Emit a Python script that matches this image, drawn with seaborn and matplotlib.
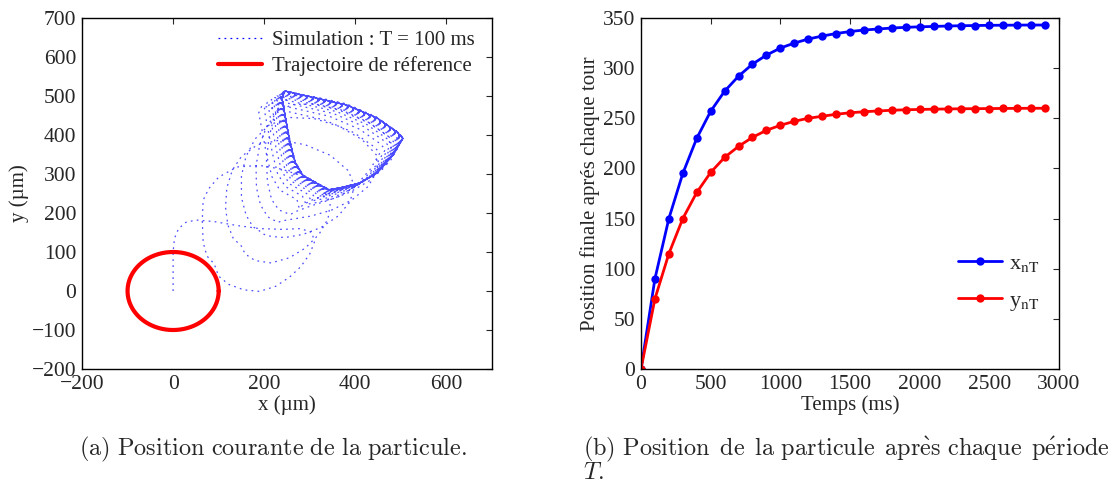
import numpy as np
import pandas as pd
import matplotlib
matplotlib.use("Agg")
import matplotlib.pyplot as plt
import seaborn as sns

# ---- panel (b): end-of-period positions (um) ----
t_ms = [0, 100, 200, 300, 400, 500, 600, 700, 800, 900, 1000, 1100, 1200, 1300, 1400,
        1500, 1600, 1700, 1800, 1900, 2000, 2100, 2200, 2300, 2400, 2500, 2600, 2700,
        2800, 2900]
x_nT = [0, 90, 150, 195, 230, 257, 277, 292, 304, 313, 320, 325, 329, 332, 334.5,
        336.5, 338, 339, 340, 340.7, 341.2, 341.6, 342, 342.3, 342.5, 342.7, 342.8,
        342.9, 343, 343]
y_nT = [0, 70, 115, 150, 176, 196, 211, 222, 231, 238, 243, 247, 250, 252, 254,
        255.5, 256.5, 257.3, 258, 258.5, 258.8, 259.1, 259.3, 259.5, 259.6, 259.7,
        259.8, 259.9, 260, 260]

# ---- panel (a): particle path over the first periods ----
loop_1 = [(0, 0), (0, 50), (0, 100), (3, 135), (12, 160), (28, 176), (50, 182),
          (90, 178), (140, 168), (190, 160), (240, 158), (280, 160), (305, 150),
          (310, 125), (300, 95), (280, 62), (255, 35), (225, 12), (190, -1), (155, 3),
          (122, 17), (100, 38), (90, 70)]
loop_2 = [(90, 70), (74, 90), (66, 125), (64, 180), (66, 233), (78, 262), (100, 292),
          (140, 318), (190, 322), (240, 312), (290, 292), (330, 262), (345, 225),
          (340, 185), (320, 145), (290, 110), (255, 85), (215, 72), (180, 78),
          (158, 95), (150, 115)]
loop_3 = [(150, 115), (132, 135), (120, 170), (115, 215), (118, 265), (130, 310),
          (150, 345), (185, 375), (235, 387), (290, 375), (345, 348), (385, 308),
          (398, 268), (388, 228), (362, 192), (325, 163), (285, 145), (245, 137),
          (215, 140), (200, 145), (195, 150)]
loop_4 = [(195, 150), (175, 165), (160, 195), (150, 240), (150, 295), (160, 345),
          (180, 390), (210, 425), (255, 445), (310, 442), (365, 422), (415, 388),
          (447, 348), (448, 308), (428, 268), (392, 233), (347, 207), (302, 192),
          (265, 185), (240, 180), (230, 176)]
loop_5 = [(230, 176), (208, 190), (192, 220), (183, 265), (182, 320), (190, 375),
          (205, 420), (225, 455), (260, 478), (310, 480), (370, 464), (430, 432),
          (472, 397), (480, 357), (464, 317), (430, 282), (387, 253), (342, 233),
          (302, 218), (272, 205), (257, 196)]
loop_6 = [(257, 196), (232, 208), (216, 235), (207, 280), (205, 335), (210, 390),
          (220, 440), (235, 480), (262, 502), (315, 497), (380, 480), (445, 447),
          (488, 408), (496, 372), (476, 332), (441, 297), (396, 270), (346, 250),
          (306, 234), (285, 221), (277, 211)]
# closed cycle reached once the drift has died out
loop_lim = [(343, 260), (323, 272), (285, 297), (268, 331), (257, 382), (246, 451),
            (239, 495), (246, 513), (307, 497), (382, 477), (448, 444), (492, 408),
            (505, 392), (483, 349), (448, 303), (410, 277), (367, 265), (343, 260)]
early_loops = [loop_1, loop_2, loop_3, loop_4, loop_5, loop_6]

# reference circle (radius 100 um, centred on the origin)
ref_radius = 100

SERIF = ["Liberation Serif", "DejaVu Serif"]
sns.set_theme(style="white")
plt.rcParams["font.family"] = SERIF
plt.rcParams["mathtext.fontset"] = "stix"
plt.rcParams["xtick.direction"] = "in"
plt.rcParams["ytick.direction"] = "in"
plt.rcParams["xtick.top"] = True
plt.rcParams["ytick.right"] = True
plt.rcParams["xtick.major.size"] = 4
plt.rcParams["ytick.major.size"] = 4
plt.rcParams["xtick.major.width"] = 0.8
plt.rcParams["ytick.major.width"] = 0.8
plt.rcParams["axes.edgecolor"] = "black"
plt.rcParams["axes.linewidth"] = 1.0

fig = plt.figure(figsize=(11.17, 4.86), dpi=100)
ax1 = fig.add_axes([82 / 1117, 1 - 369 / 486, 410 / 1117, 351 / 486])
ax2 = fig.add_axes([641 / 1117, 1 - 369 / 486, 418 / 1117, 351 / 486])

# whole simulated path: first periods, then the converging periods that keep
# the cycle shape while the end point settles, then the final cycle
path = []
for lp in early_loops:
    path.extend(lp if not path else lp[1:])
lim = np.array(loop_lim, dtype=float)
x_end, y_end = x_nT[-1], y_nT[-1]
for n in range(7, len(x_nT)):
    shifted = lim + np.array([x_nT[n] - x_end, y_nT[n] - y_end])
    path.extend([tuple(p) for p in shifted[1:]])
path.extend(loop_lim[1:])
path = np.array(path, dtype=float)
traj = pd.DataFrame({"x": path[:, 0], "y": path[:, 1]})

DOT = (0, (1.4, 3.4))
sns.lineplot(data=traj, x="x", y="y", sort=False, estimator=None,
             color="blue", lw=0.9, alpha=0.7, linestyle=DOT, ax=ax1)

theta = np.linspace(0, 2 * np.pi, 200)
ax1.plot(ref_radius * np.cos(theta), ref_radius * np.sin(theta), color="red", lw=3)

h_sim, = ax1.plot([], [], color="blue", lw=0.9, linestyle=DOT)
h_ref, = ax1.plot([], [], color="red", lw=3)
ax1.legend([h_sim, h_ref], ["Simulation : T = 100 ms", "Trajectoire de réference"],
           loc="upper left", bbox_to_anchor=(0.332, 0.965), frameon=False,
           fontsize=15, handlelength=2.1, handletextpad=0.5,
           borderpad=0, borderaxespad=0, labelspacing=0.3)

ax1.set_xlim(-200, 700)
ax1.set_ylim(-200, 700)
ax1.set_xticks([-200, 0, 200, 400, 600])
ax1.set_yticks(range(-200, 701, 100))
ax1.set_xlabel("x (µm)", fontsize=15, labelpad=1)
ax1.set_ylabel("y (µm)", fontsize=15, labelpad=2)
ax1.tick_params(labelsize=15.5, pad=4)

# panel (b)
df_b = pd.DataFrame({"t": t_ms + t_ms, "pos": x_nT + y_nT,
                     "serie": ["x"] * len(t_ms) + ["y"] * len(t_ms)})
sns.lineplot(data=df_b, x="t", y="pos", hue="serie", palette=["blue", "red"],
             marker="o", markersize=6, markeredgewidth=0, lw=2, ax=ax2, legend=False)
hx, = ax2.plot([], [], color="blue", lw=2, marker="o", markersize=6, markeredgewidth=0)
hy, = ax2.plot([], [], color="red", lw=2, marker="o", markersize=6, markeredgewidth=0)
ax2.legend([hx, hy], [r"x$_{\rm nT}$", r"y$_{\rm nT}$"], loc="upper left",
           bbox_to_anchor=(0.758, 0.33), frameon=False, fontsize=16,
           handlelength=2.0, handletextpad=0.3, borderpad=0, borderaxespad=0,
           labelspacing=0.75)
ax2.set_xlim(0, 3000)
ax2.set_ylim(0, 350)
ax2.set_xticks(range(0, 3001, 500))
ax2.set_yticks(range(0, 351, 50))
ax2.set_xlabel("Temps (ms)", fontsize=15, labelpad=1)
ax2.set_ylabel("Position finale aprés chaque tour", fontsize=15, labelpad=2)
ax2.tick_params(labelsize=15.5, pad=4)

# captions in Computer Modern
cap = dict(fontsize=17.5, math_fontfamily="cm", va="center")
fig.text(273 / 1117, 1 - 449 / 486,
         r"$\mathrm{(a)\ Position\ courante\ de\ la\ particule.}$", ha="center", **cap)
fig.text(583 / 1117, 1 - 449 / 486,
         r"$\mathrm{(b)\ Position\ \,de\ \,la\ particule\ \,apr\grave{e}s\ chaque\ \,p\acute{e}riode}$",
         ha="left", **cap)
fig.text(583 / 1117, 1 - 473 / 486, r"$T.$", ha="left", **cap)

fig.savefig("out.png", dpi=100)
